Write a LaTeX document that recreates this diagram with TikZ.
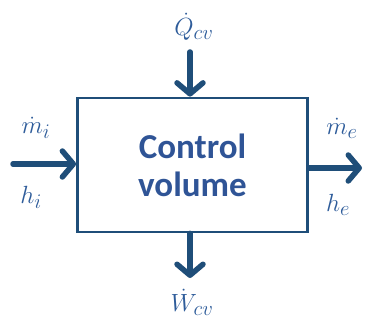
\documentclass[tikz,border=0pt]{standalone}
\usepackage{fontspec}
\newfontfamily\boxfont{Carlito}
\usetikzlibrary{arrows.meta}
\definecolor{cvline}{HTML}{1F4E79}
\definecolor{cvtext}{HTML}{2F5496}
\definecolor{cvlab}{HTML}{2E5C9A}
\tikzset{
  flow/.style={line width=5.5pt, draw=cvline, -{Straight Barb[length=11pt,width=26pt,line width=5.5pt,round]}, line cap=round},
  lab/.style={text=cvlab, font=\fontsize{28}{30}\selectfont, inner sep=0pt},
}
\begin{document}
\begin{tikzpicture}[x=1pt,y=-1pt]
\useasboundingbox (0,0) rectangle (366,328);
\node[draw=cvline, line width=2.8pt, minimum width=230pt, minimum height=134pt, inner sep=0pt, text=cvtext, align=center, font=\boxfont\bfseries\fontsize{35}{38}\selectfont] (cv) at (192.5,165) {Control\\volume};
\coordinate (inL) at (13,164);
\coordinate (outR) at (362,168);
\coordinate (topS) at (190,52);
\coordinate (botE) at (190,278);
\draw[flow] (inL) -- (inL -| cv.west);
\draw[flow] (outR -| cv.east) -- (outR);
\draw[flow] (topS) -- (topS |- cv.north);
\draw[flow] (botE |- cv.south) -- (botE);
\node[lab] (mi) at (36,128) {$\dot m_i$};
\node[lab] (hi) at (31,197) {$h_i$};
\node[lab] (me) at (342,128) {$\dot m_e$};
\node[lab] (he) at (338,205) {$h_e$};
\node[lab] (q) at (194,27) {$\dot Q_{cv}$};
\node[lab] (w) at (192,302) {$\dot W_{cv}$};
\end{tikzpicture}
\end{document}
